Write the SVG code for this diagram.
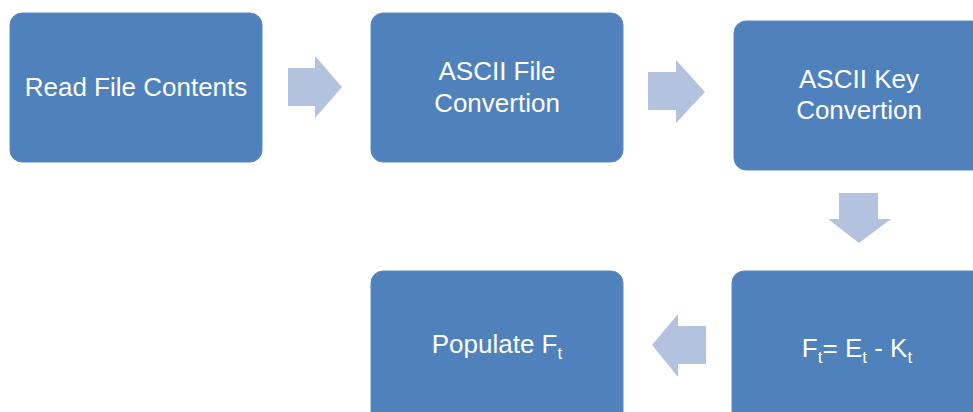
<svg xmlns="http://www.w3.org/2000/svg" width="973" height="412" viewBox="0 0 973 412">
  <style>
    .box { fill: #4F81BD; stroke: #5A8AC4; stroke-width: 1; }
    .arrow { fill: #B3C2DE; }
    .label { font-family: "Liberation Sans", Arial, sans-serif; font-size: 26px; fill: #FFFFFF; text-anchor: middle; }
    .sub { font-size: 17px; }
  </style>
  <rect width="973" height="412" fill="#FFFFFF"/>

  <g id="connectors">
    <polygon class="arrow" points="288,68 315,68 315,56 342,87 315,118 315,106 288,106"/>
    <polygon class="arrow" points="648,72 676,72 676,60 705,92 676,123 676,110 648,110"/>
    <polygon class="arrow" points="839,193 878,193 878,219 891,219 859,243 828,219 839,219"/>
    <polygon class="arrow" points="706,326 678,326 678,314 652,345 678,377 678,364 706,364"/>
  </g>

  <g id="read-file">
    <rect class="box" x="10" y="13" width="252" height="149" rx="12"/>
    <text class="label" x="136" y="96">Read File Contents</text>
  </g>

  <g id="ascii-file">
    <rect class="box" x="371" y="13" width="252" height="149" rx="12"/>
    <text class="label" x="497" y="80">ASCII File</text>
    <text class="label" x="497" y="112">Convertion</text>
  </g>

  <g id="ascii-key">
    <rect class="box" x="734" y="21" width="260" height="149" rx="12"/>
    <text class="label" x="859" y="88">ASCII Key</text>
    <text class="label" x="859" y="119">Convertion</text>
  </g>

  <g id="subtract">
    <rect class="box" x="732" y="271" width="262" height="160" rx="12"/>
    <text class="label" x="857" y="357">F<tspan class="sub" dy="6">t</tspan><tspan dy="-6">= E</tspan><tspan class="sub" dy="6">t</tspan><tspan dy="-6"> - K</tspan><tspan class="sub" dy="6">t</tspan></text>
  </g>

  <g id="populate">
    <rect class="box" x="371" y="271" width="252" height="160" rx="12"/>
    <text class="label" x="497" y="353">Populate F<tspan class="sub" dy="6">t</tspan></text>
  </g>
</svg>
